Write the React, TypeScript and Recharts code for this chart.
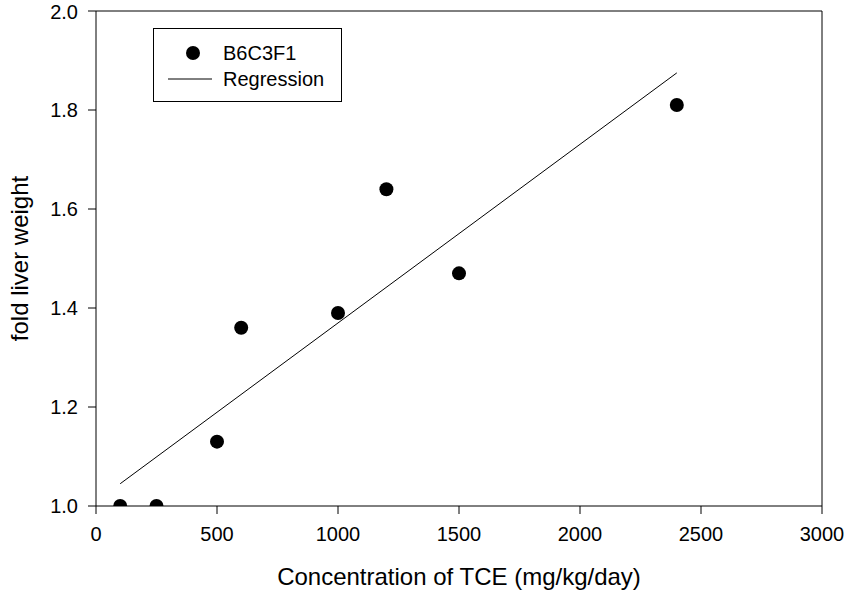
import React from "react";
import {
  ScatterChart,
  Scatter,
  XAxis,
  YAxis,
  ReferenceLine,
  Legend,
} from "recharts";

// measured points (x = TCE dose, y = fold liver weight)
const doses = [100, 250, 500, 600, 1000, 1200, 1500, 2400];
const liverWeight = [1.0, 1.0, 1.13, 1.36, 1.39, 1.64, 1.47, 1.81];

// regression line end points
const regressionX = [100, 2400];
const regressionY = [1.045, 1.875];

const xTicks = [0, 500, 1000, 1500, 2000, 2500, 3000];
const yTicks = [1.0, 1.2, 1.4, 1.6, 1.8, 2.0];

const seriesNames = ["B6C3F1", "Regression"];

const FONT = "'Liberation Sans', Arial, sans-serif";

const points = doses.map((d, i) => ({ x: d, y: liverWeight[i] }));
const regression = regressionX.map((d, i) => ({ x: d, y: regressionY[i] }));

const Dot = (props: any) => {
  const { cx, cy } = props;
  return <circle cx={cx} cy={cy} r={7} fill="#000" />;
};

const LegendBox = () => (
  <div
    style={{
      width: 189,
      height: 74,
      border: "1px solid #000",
      boxSizing: "border-box",
      background: "#fff",
      position: "relative",
      fontFamily: FONT,
      fontSize: 20,
    }}
  >
    <svg width={187} height={72} style={{ position: "absolute", left: 0, top: 0 }}>
      <circle cx={39} cy={24} r={7} fill="#000" />
      <line x1={14} x2={58} y1={50} y2={50} stroke="#000" strokeWidth={1} />
      <text x={69} y={24} dy="0.355em" fontSize={20} fontFamily={FONT} fill="#000">
        {seriesNames[0]}
      </text>
      <text x={69} y={50} dy="0.355em" fontSize={20} fontFamily={FONT} fill="#000">
        {seriesNames[1]}
      </text>
    </svg>
  </div>
);

export default function App() {
  return (
    <div style={{ position: "absolute", left: 0, top: 0, background: "#fff" }}>
      <ScatterChart
        width={845}
        height={594}
        margin={{ top: 11, right: 23, left: 0, bottom: 0 }}
      >
        <XAxis
          type="number"
          dataKey="x"
          domain={[0, 3000]}
          ticks={xTicks}
          allowDataOverflow
          height={88}
          stroke="#000"
          tickSize={8}
          tickMargin={13}
          tick={{ fontSize: 20, fill: "#000", fontFamily: FONT }}
          label={{
            content: (p: any) => {
              const vb = p.viewBox;
              return (
                <text
                  x={vb.x + vb.width / 2}
                  y={vb.y + 79}
                  textAnchor="middle"
                  fontSize={24}
                  fontFamily={FONT}
                  fill="#000"
                >
                  Concentration of TCE (mg/kg/day)
                </text>
              );
            },
          }}
        />
        <YAxis
          type="number"
          dataKey="y"
          domain={[1, 2]}
          ticks={yTicks}
          allowDataOverflow
          width={96}
          stroke="#000"
          tickSize={8}
          tickMargin={10}
          tickFormatter={(v: number) => v.toFixed(1)}
          tick={{ fontSize: 20, fill: "#000", fontFamily: FONT }}
          label={{
            content: (p: any) => {
              const vb = p.viewBox;
              const cx = vb.x + 28;
              const cy = vb.y + vb.height / 2;
              return (
                <text
                  x={cx}
                  y={cy}
                  textAnchor="middle"
                  transform={`rotate(-90 ${cx} ${cy})`}
                  fontSize={24}
                  fontFamily={FONT}
                  fill="#000"
                >
                  fold liver weight
                </text>
              );
            },
          }}
        />
        <ReferenceLine y={2} stroke="#000" strokeWidth={1} />
        <ReferenceLine x={3000} stroke="#000" strokeWidth={1} />
        <Scatter
          name={seriesNames[1]}
          data={regression}
          line={{ stroke: "#000", strokeWidth: 1 }}
          lineType="joint"
          shape={() => <g />}
          isAnimationActive={false}
        />
        <Scatter
          name={seriesNames[0]}
          data={points}
          shape={Dot}
          isAnimationActive={false}
        />
        <Legend
          layout="horizontal"
          verticalAlign="middle"
          align="center"
          content={() => <LegendBox />}
          wrapperStyle={{ position: "absolute", left: 153, top: 28, width: 189, height: 74 }}
        />
      </ScatterChart>
    </div>
  );
}
